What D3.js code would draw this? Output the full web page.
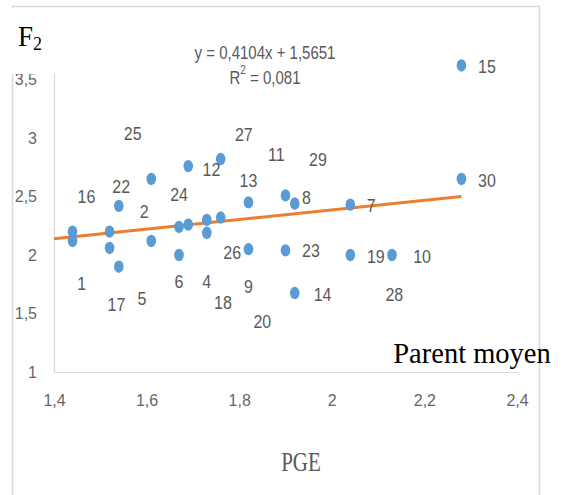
<!DOCTYPE html>
<html>
<head>
<meta charset="utf-8">
<script src="https://cdn.jsdelivr.net/npm/d3@7"></script>
<style>
  body { margin: 0; background: #fff; }
</style>
</head>
<body>
<script>
// point values
var pointX = [1.44, 1.44, 1.52, 1.52, 1.54, 1.54, 1.61, 1.61, 1.67, 1.67,
              1.69, 1.69, 1.73, 1.73, 1.76, 1.76, 1.82, 1.82, 1.90, 1.92,
              1.90, 1.92, 2.04, 2.04, 2.13, 2.28, 2.28];
var pointY = [2.20, 2.12, 2.20, 2.06, 2.42, 1.90, 2.65, 2.12, 2.24, 2.00,
              2.76, 2.26, 2.30, 2.19, 2.82, 2.32, 2.45, 2.05, 2.51, 2.44,
              2.04, 1.675, 2.43, 2.00, 2.00, 3.62, 2.65];

// data labels as they sit in the picture (in data units)
var labelText = ["25", "27", "11", "12", "22", "13", "16", "24", "15", "29",
                 "30", "2", "26", "1", "6", "4", "9", "17", "5", "18",
                 "20", "8", "7", "23", "19", "10", "14", "28"];
var labelX = [1.57, 1.81, 1.88, 1.74, 1.545, 1.82, 1.47, 1.67, 2.335, 1.97,
              2.335, 1.595, 1.785, 1.46, 1.67, 1.73, 1.82, 1.535, 1.59, 1.765,
              1.85, 1.945, 2.085, 1.955, 2.095, 2.195, 1.98, 2.135];
var labelY = [3.04, 3.03, 2.855, 2.735, 2.59, 2.64, 2.50, 2.52, 3.61, 2.82,
              2.64, 2.375, 2.02, 1.76, 1.77, 1.77, 1.735, 1.58, 1.63, 1.59,
              1.435, 2.49, 2.42, 2.035, 1.99, 1.99, 1.665, 1.665];

var xTicks = [1.4, 1.6, 1.8, 2, 2.2, 2.4];
var yTicks = [1, 1.5, 2, 2.5, 3, 3.5];

var slope = 0.4104, intercept = 1.5651;
var eqText = "y = 0,4104x + 1,5651";
var r2Text = "0,081";

var W = 563, H = 495;
var grey = "#595959", lineGrey = "#d9d9d9";

var svg = d3.select("body").append("svg")
    .attr("width", W)
    .attr("height", H);

var x = d3.scaleLinear().domain([1.4, 2.4]).range([54, 517]);
var y = d3.scaleLinear().domain([1, 3.56]).range([372, 72.5]);

var fr = d3.formatLocale({decimal: ",", thousands: " ", grouping: [3], currency: ["", ""]});
var fmt = function(d) { return fr.format("")(d); };

// outer frame
svg.append("rect")
    .attr("x", 12.5).attr("y", 6.5)
    .attr("width", 527).attr("height", 500)
    .attr("fill", "none")
    .attr("stroke", lineGrey)
    .attr("stroke-width", 1.5);

// axes
var xAxis = svg.append("g")
    .attr("transform", "translate(0,372)")
    .call(d3.axisBottom(x).tickValues(xTicks).tickSize(0).tickPadding(23).tickFormat(fmt));
var yAxis = svg.append("g")
    .attr("transform", "translate(54,0)")
    .call(d3.axisLeft(y).tickValues(yTicks).tickSize(0).tickPadding(17).tickFormat(fmt));

[xAxis, yAxis].forEach(function(a) {
    a.select(".domain").attr("stroke", lineGrey).attr("stroke-width", 1.2);
    a.selectAll("text")
        .attr("fill", "#666")
        .style("font-family", "'Liberation Sans', Arial, sans-serif")
        .style("font-size", "16px");
});

// white box over the top left corner (as in the picture)
svg.append("rect")
    .attr("x", 8).attr("y", 8)
    .attr("width", 90).attr("height", 66)
    .attr("fill", "#fff");

// trend line
svg.append("path")
    .datum([1.4, d3.max(pointX)])
    .attr("d", d3.line()
        .x(function(d) { return x(d); })
        .y(function(d) { return y(slope * d + intercept); }))
    .attr("stroke", "#ed7d31")
    .attr("stroke-width", 3)
    .attr("fill", "none");

// points
svg.selectAll("ellipse.pt")
    .data(pointX)
    .enter()
    .append("ellipse")
        .attr("class", "pt")
        .attr("cx", function(d) { return x(d); })
        .attr("cy", function(d, i) { return y(pointY[i]); })
        .attr("rx", 4.8)
        .attr("ry", 6.2)
        .attr("fill", "#5b9bd5");

// helper: text stretched a bit vertically, like the picture
function addText(px, py, txt, size, family, color, anchor, sy) {
    return svg.append("text")
        .attr("transform", "translate(" + px + "," + py + ") scale(1," + sy + ")")
        .attr("text-anchor", anchor)
        .attr("dominant-baseline", "central")
        .attr("fill", color)
        .style("font-family", family)
        .style("font-size", size + "px")
        .text(txt);
}

var sans = "'Liberation Sans', Arial, sans-serif";
var serif = "'Liberation Serif', 'Times New Roman', serif";

labelText.forEach(function(t, i) {
    addText(x(labelX[i]), y(labelY[i]), t, 16, sans, grey, "middle", 1.2);
});

// equation
addText(265, 53, eqText, 15, sans, grey, "middle", 1.2);
var r2 = addText(265, 77, "R", 15, sans, grey, "middle", 1.2).text(null);
r2.append("tspan").text("R");
r2.append("tspan").attr("dy", -6).style("font-size", "10px").text("2");
r2.append("tspan").attr("dy", 6).text(" = " + r2Text);

// titles
var f2 = addText(18, 36, "", 27, serif, "#000", "start", 1.1);
f2.append("tspan").text("F");
f2.append("tspan").attr("dy", 6).style("font-size", "18px").text("2");

addText(472, 353, "Parent moyen", 28.5, serif, "#000", "middle", 1.05);
addText(301, 462, "PGE", 21, serif, grey, "middle", 1.25);
</script>
</body>
</html>
